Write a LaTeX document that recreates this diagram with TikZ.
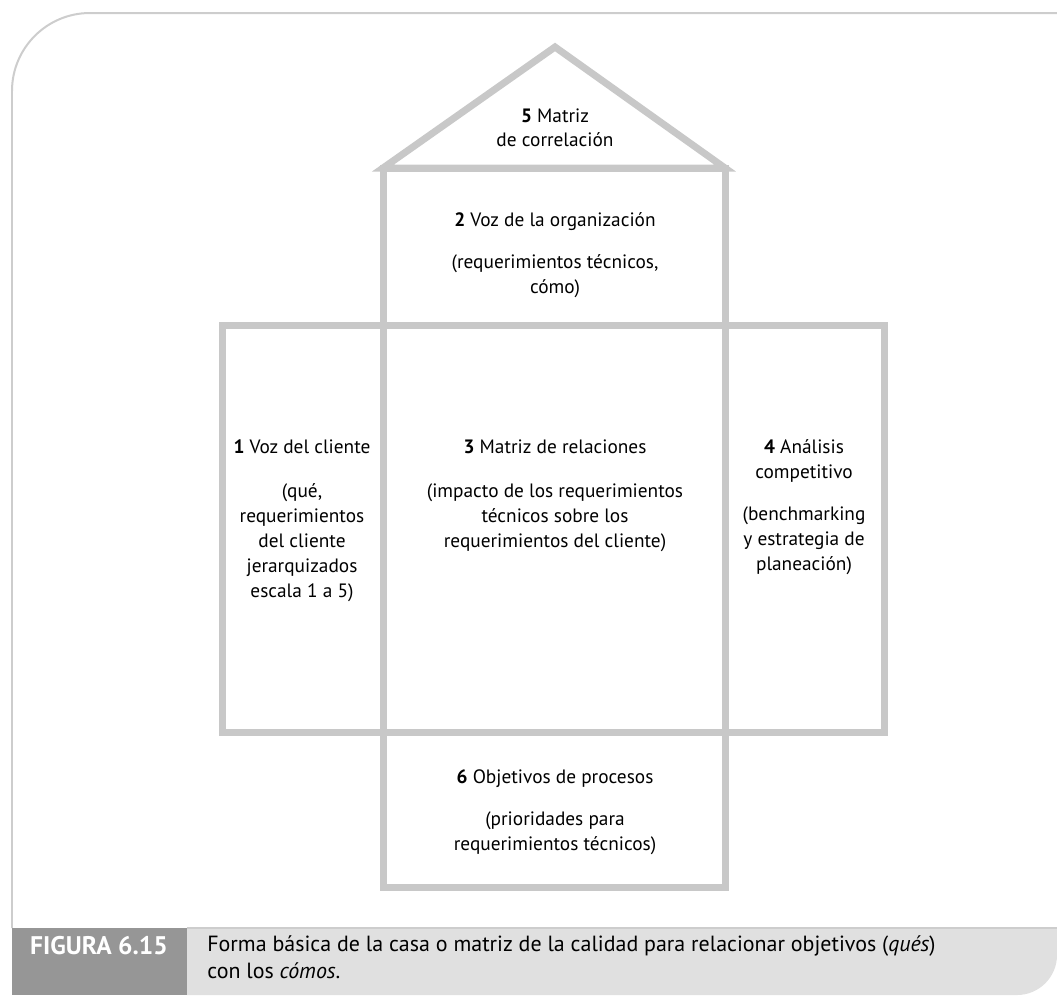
\documentclass[tikz,border=0pt]{standalone}
\usepackage{fontspec}
\setmainfont{PT Sans}
\usetikzlibrary{positioning}
\definecolor{wallgray}{RGB}{200,200,200}
\definecolor{framegray}{RGB}{205,205,205}
\definecolor{tagdark}{RGB}{150,150,150}
\definecolor{taglight}{RGB}{224,224,224}

\begin{document}
\begin{tikzpicture}[
  x=0.02cm, y=-0.02cm,
  wall/.style={draw=wallgray, line width=0.14cm, line join=miter},
  boxtext/.style={font=\fontsize{11}{14.2}\selectfont, align=center, anchor=north, inner sep=0pt},
  captext/.style={font=\fontsize{12.5}{15.5}\selectfont, inner sep=0pt}
]
\useasboundingbox (0,0) rectangle (1057,995);

%% Outer frame and caption bar
\draw[framegray, line width=0.04cm, rounded corners=1.56cm] (12,928) -- (12,13) -- (1057,13);
\fill[tagdark] (12,928) rectangle (187,995);
\fill[taglight] (187,928) -- (1057,928) -- (1057,955) arc[start angle=0, end angle=90, radius=40] -- (187,995) -- cycle;
\draw[framegray, line width=0.03cm] (187,928) -- (1057,928);
\node[captext, font=\fontsize{14.5}{16}\selectfont\bfseries, text=white] (figlabel) at (99,946) {FIGURA 6.15};
\node[captext, anchor=north west, align=left] (figtext) at (207,935)
  {Forma básica de la casa o matriz de la calidad para relacionar objetivos (\textit{qués})\\con los \textit{cómos}.};

%% House of quality
\draw[wall] (383,168) -- (555,47) -- (725,168) -- cycle;
\draw[wall] (383,168) rectangle (725,887);
\draw[wall] (222,325) rectangle (884,732);

%% Room texts
\node[boxtext] (correlation) at (555,108) {\textbf{5} Matriz\\de correlación};
\node[boxtext] (orgvoice) at (555,212) {\textbf{2} Voz de la organización\\[10pt](requerimientos técnicos,\\cómo)};
\node[boxtext] (custvoice) at (302,439) {\textbf{1} Voz del cliente\\[11pt](qué,\\requerimientos\\del cliente\\jerarquizados\\escala 1 a 5)};
\node[boxtext] (relations) at (555,439) {\textbf{3} Matriz de relaciones\\[11pt](impacto de los requerimientos\\técnicos sobre los\\requerimientos del cliente)};
\node[boxtext] (competition) at (804,439) {\textbf{4} Análisis\\competitivo\\[10pt](benchmarking\\y estrategia de\\planeación)};
\node[boxtext] (targets) at (555,769) {\textbf{6} Objetivos de procesos\\[10pt](prioridades para\\requerimientos técnicos)};
\end{tikzpicture}
\end{document}
